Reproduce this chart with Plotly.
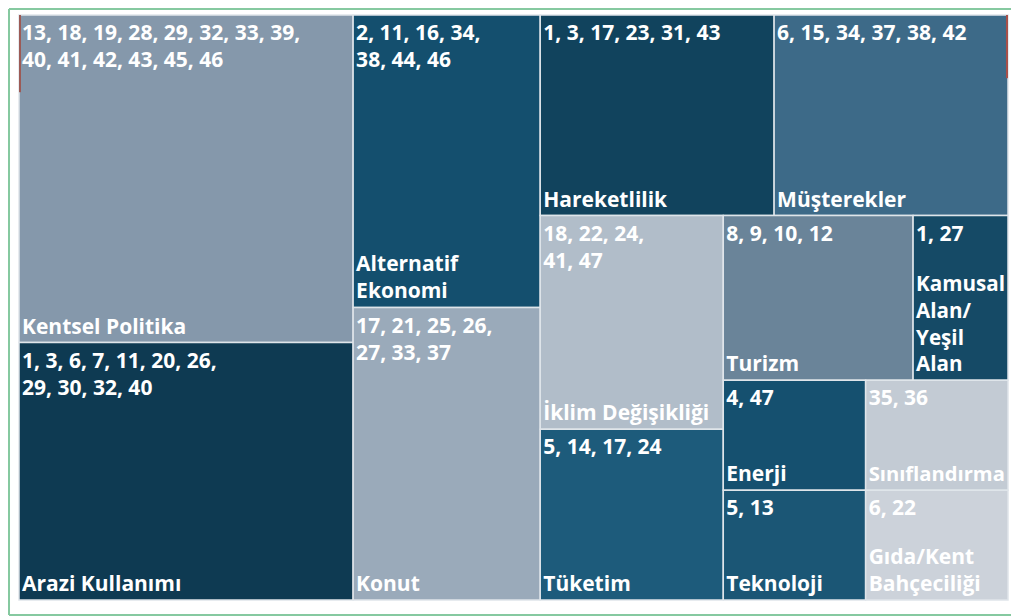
import plotly.graph_objects as go

# ---------------- data ----------------
categories = [
    "Kentsel Politika", "Arazi Kullanımı", "Alternatif Ekonomi", "Konut",
    "Hareketlilik", "Müşterekler", "İklim Değişikliği", "Tüketim",
    "Turizm", "Kamusal Alan/Yeşil Alan", "Enerji", "Teknoloji",
    "Sınıflandırma", "Gıda/Kent Bahçeciliği",
]
articles = [
    [13, 18, 19, 28, 29, 32, 33, 39, 40, 41, 42, 43, 45, 46],
    [1, 3, 6, 7, 11, 20, 26, 29, 30, 32, 40],
    [2, 11, 16, 34, 38, 44, 46],
    [17, 21, 25, 26, 27, 33, 37],
    [1, 3, 17, 23, 31, 43],
    [6, 15, 34, 37, 38, 42],
    [18, 22, 24, 41, 47],
    [5, 14, 17, 24],
    [8, 9, 10, 12],
    [1, 27],
    [4, 47],
    [5, 13],
    [35, 36],
    [6, 22],
]
values = [len(a) for a in articles]

# ---------------- layout / style helpers ----------------
# invisible grouping used only to reproduce the tile arrangement
group_ids = ["A", "C", "D", "E", "F", "G", "H", "I", "J", "K", "L"]
group_parents = ["", "", "", "D", "D", "F", "F", "H", "H", "J", "J"]
leaf_group = ["A", "A", "C", "C", "E", "E", "G", "G", "I", "I", "K", "K", "L", "L"]

colors = [
    "#8598ab", "#0e3a52", "#144f6e", "#9aaaba",
    "#11435d", "#3d6a88", "#b1bdc9", "#1d5b7b",
    "#6a8499", "#154a66", "#15506f", "#1b5675",
    "#c3cbd4", "#ccd2da",
]
per_line = [8, 7, 4, 4, 6, 6, 3, 4, 4, 2, 2, 2, 2, 2]
name_display = {
    "Alternatif Ekonomi": "Alternatif<br>Ekonomi",
    "Kamusal Alan/Yeşil Alan": "Kamusal<br>Alan/<br>Yeşil<br>Alan",
    "Gıda/Kent Bahçeciliği": "Gıda/Kent<br>Bahçeciliği",
}


def number_text(nums, n):
    lines = [nums[i:i + n] for i in range(0, len(nums), n)]
    parts = [", ".join(str(v) for v in ln) for ln in lines]
    return ",<br>".join(parts)


num_texts = [number_text(a, n) for a, n in zip(articles, per_line)]
name_texts = [name_display.get(c, c) for c in categories]

ids = group_ids + categories
labels = [""] * len(group_ids) + categories
parents = group_parents + leaf_group
vals = [0] * len(group_ids) + values
ng = len(group_ids)

font = dict(family="Open Sans", size=21, color="white", weight="bold")
common = dict(
    ids=ids, labels=labels, parents=parents, values=vals,
    branchvalues="remainder", sort=False,
    tiling=dict(packing="slice-dice", pad=0),
    pathbar=dict(visible=False),
    hoverinfo="skip",
    texttemplate="%{text}",
    textfont=font,
    root=dict(color="rgba(0,0,0,0)"),
)

fig = go.Figure()
fig.add_trace(go.Treemap(
    **common,
    text=[""] * ng + num_texts,
    textposition="top left",
    marker=dict(
        colors=["rgba(0,0,0,0)"] * ng + colors,
        line=dict(color="#dfe5ea", width=[0] * ng + [1.5] * len(categories)),
        pad=dict(t=0, l=0, r=0, b=0),
        depthfade=False,
    ),
))
fig.add_trace(go.Treemap(
    **common,
    text=[""] * ng + name_texts,
    textposition="bottom left",
    marker=dict(
        colors=["rgba(0,0,0,0)"] * (ng + len(categories)),
        line=dict(width=0),
        pad=dict(t=0, l=0, r=0, b=0),
        depthfade=False,
    ),
))

# decorative frame and edge marks
frame = "#86c9a0"
fig.add_shape(type="line", xref="paper", yref="paper", x0=-0.0101, x1=1.02, y0=1.0103, y1=1.0103,
              line=dict(color=frame, width=2))
fig.add_shape(type="line", xref="paper", yref="paper", x0=-0.0101, x1=-0.0101, y0=1.0103, y1=-0.0256,
              line=dict(color=frame, width=2))
fig.add_shape(type="line", xref="paper", yref="paper", x0=-0.0101, x1=1.02, y0=-0.0256, y1=-0.0256,
              line=dict(color=frame, width=2))
fig.add_shape(type="line", xref="paper", yref="paper", x0=0.001, x1=0.001, y0=1, y1=0.868,
              line=dict(color="#9c5a55", width=2))
fig.add_shape(type="line", xref="paper", yref="paper", x0=0.999, x1=0.999, y0=1, y1=0.892,
              line=dict(color="#a8504a", width=2))

fig.update_layout(
    width=1011, height=608,
    margin=dict(l=11, r=11, t=7, b=16),
    paper_bgcolor="white",
    showlegend=False,
)
fig.write_html("out.html")
